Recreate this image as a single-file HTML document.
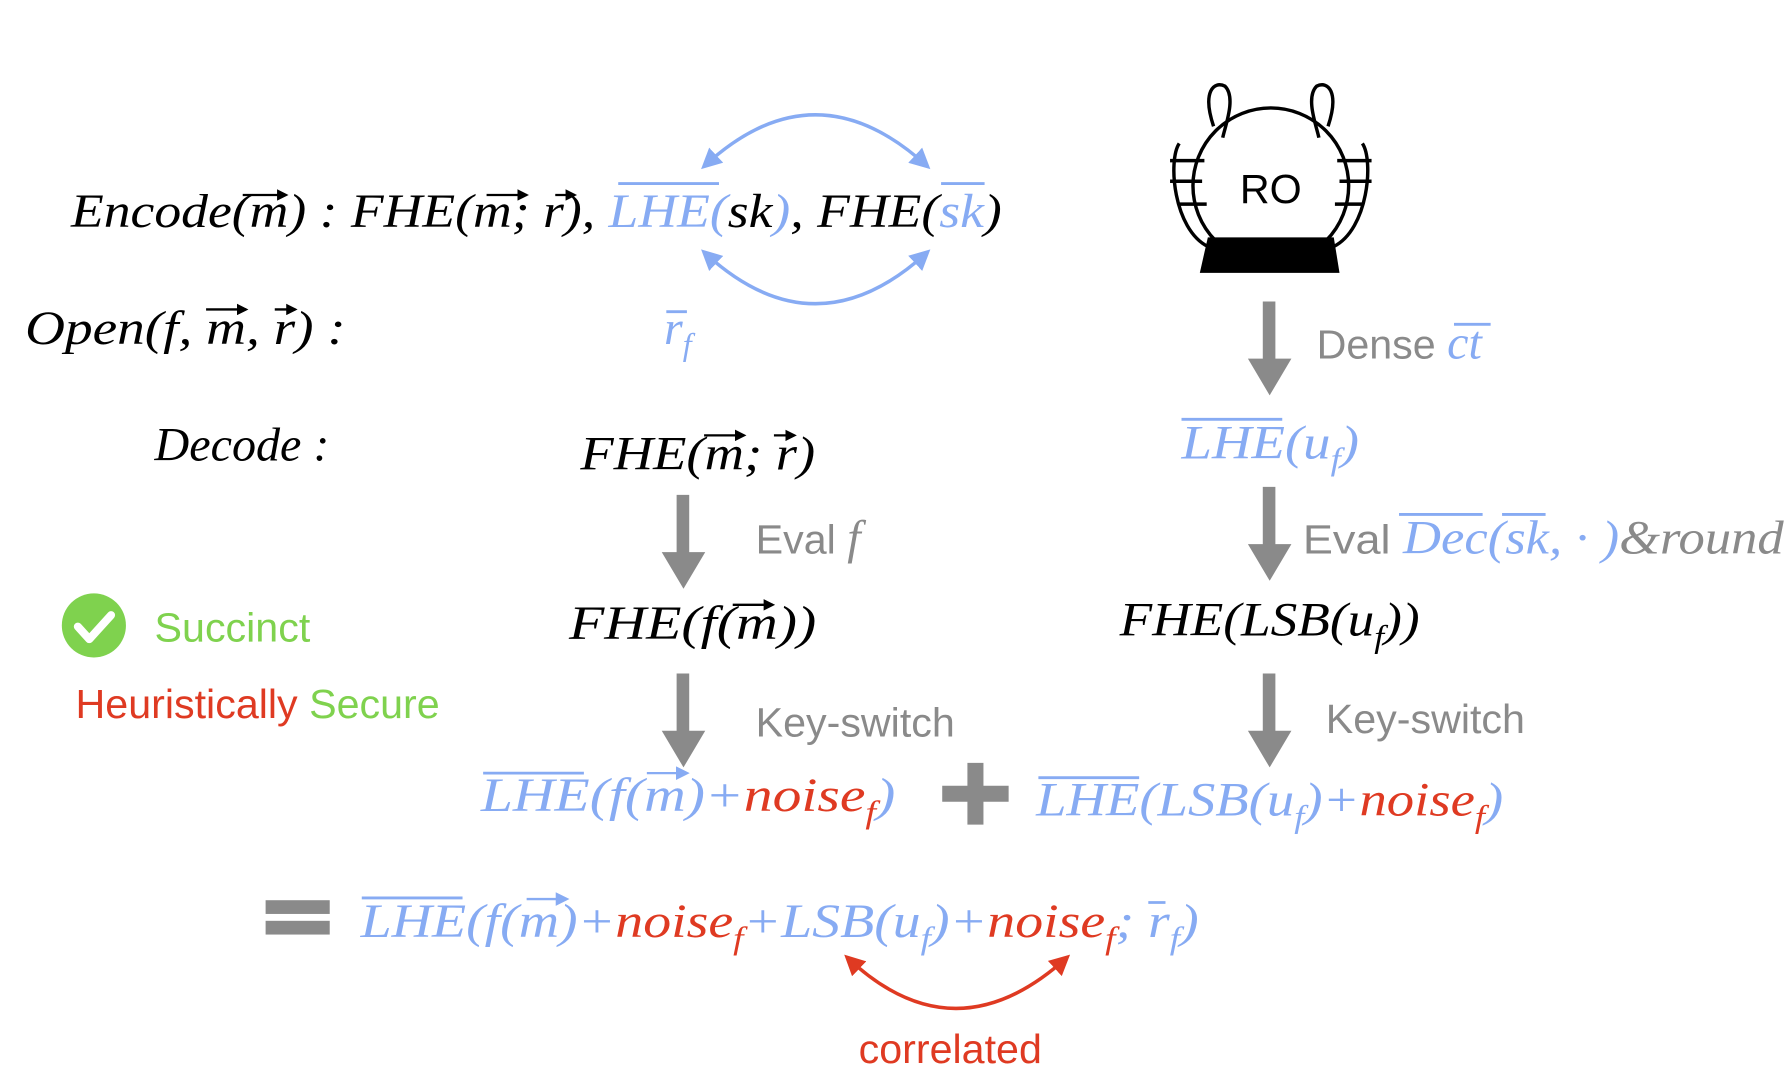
<!DOCTYPE html>
<html><head><meta charset="utf-8"><style>
html,body{margin:0;padding:0;background:#fff}
svg{display:block}
.m{font-family:"Liberation Serif",serif;font-style:italic;font-size:42px}
.s{font-family:"Liberation Sans",sans-serif;font-size:36px}
.b{fill:#87abf3}.k{fill:#000}.r{fill:#df3a22}.g{fill:#8a8a8a}.gr{fill:#7fd24e}
.sub{font-size:28px}
</style></head><body>
<svg width="1786" height="1078" viewBox="0 0 1560 941" xmlns="http://www.w3.org/2000/svg">
<defs>
<marker id="ab" viewBox="0 0 10 10" refX="8" refY="5" markerWidth="6" markerHeight="6" orient="auto-start-reverse"><path d="M0,0L10,5L0,10z" fill="#87abf3"/></marker>
<marker id="ar" viewBox="0 0 10 10" refX="8" refY="5" markerWidth="6" markerHeight="6" orient="auto-start-reverse"><path d="M0,0L10,5L0,10z" fill="#df3a22"/></marker>
<marker id="ak" viewBox="0 0 10 10" refX="8" refY="5" markerWidth="5" markerHeight="5" orient="auto"><path d="M0,0L10,5L0,10z" fill="#000"/></marker>
</defs>

<!-- line 1 -->
<text class="m k" x="62" y="198" textLength="813" lengthAdjust="spacingAndGlyphs">Encode(m) : FHE(m; r), <tspan class="b">LHE(</tspan>sk<tspan class="b">)</tspan>, FHE(<tspan class="b">sk</tspan>)</text>
<g stroke="#000" stroke-width="2" fill="none">
<path d="M212,170H250" marker-end="url(#ak)"/><path d="M425,170H460" marker-end="url(#ak)"/><path d="M485,170H502" marker-end="url(#ak)"/>
</g>
<g stroke="#87abf3" stroke-width="2.5"><path d="M540,160H628"/><path d="M822,160H860"/></g>
<path d="M615,145Q712,55 810,145" stroke="#87abf3" stroke-width="3" fill="none" marker-start="url(#ab)" marker-end="url(#ab)"/>
<path d="M615,220Q712,310 810,220" stroke="#87abf3" stroke-width="3" fill="none" marker-start="url(#ab)" marker-end="url(#ab)"/>

<!-- open -->
<text class="m k" x="22" y="300" textLength="280" lengthAdjust="spacingAndGlyphs">Open(f, m, r) :</text>
<g stroke="#000" stroke-width="2" fill="none"><path d="M180,270H215" marker-end="url(#ak)"/><path d="M240,270H258" marker-end="url(#ak)"/></g>
<text class="m b" x="580" y="300">r<tspan class="sub" dy="10">f</tspan></text>
<path d="M582,272H600" stroke="#87abf3" stroke-width="2.5"/>

<!-- decode -->
<text class="m k" x="135" y="402">Decode :</text>
<text class="m k" x="507" y="410" textLength="205" lengthAdjust="spacingAndGlyphs">FHE(m; r)</text>
<g stroke="#000" stroke-width="2" fill="none"><path d="M615,380H650" marker-end="url(#ak)"/><path d="M676,380H694" marker-end="url(#ak)"/></g>

<!-- RO figure -->
<g>
<circle cx="1110" cy="162" r="68" fill="#fff" stroke="#000" stroke-width="3"/>
<path d="M1060,110C1050,80 1060,70 1070,75C1080,85 1070,110 1068,120M1030,125C1020,140 1025,200 1055,215M1160,110C1170,80 1160,70 1150,75C1140,85 1150,110 1152,120M1190,125C1200,140 1195,200 1165,215" stroke="#000" stroke-width="3" fill="none"/>
<path d="M1022,140h30M1022,158h28M1030,178h24M1198,140h-30M1198,158h-28M1190,178h-24" stroke="#000" stroke-width="3"/>
<path d="M1055,207H1165L1170,238H1048Z" fill="#000"/>
<text class="s" x="1110" y="177" text-anchor="middle" fill="#000">RO</text>
</g>

<!-- gray arrows -->
<g fill="#8a8a8a">
<path d="M1103,263h11v50h14l-19,32l-19,-32h13z"/>
<path d="M1103,425h11v50h14l-19,32l-19,-32h13z"/>
<path d="M1103,588h11v50h14l-19,32l-19,-32h13z"/>
<path d="M591,432h11v50h14l-19,32l-19,-32h13z"/>
<path d="M591,588h11v50h14l-19,32l-19,-32h13z"/>
</g>

<text class="s g" x="1150" y="313">Dense <tspan class="m b">ct</tspan></text>
<path d="M1270,283H1302" stroke="#87abf3" stroke-width="2.5"/>
<text class="m b" x="1032" y="400" textLength="155" lengthAdjust="spacingAndGlyphs">LHE(u<tspan class="sub" dy="10">f</tspan><tspan dy="-10">)</tspan></text>
<path d="M1032,366H1120" stroke="#87abf3" stroke-width="2.5"/>

<text class="s g" x="660" y="483">Eval <tspan class="m">f</tspan></text>
<text class="s g" x="1138" y="483" textLength="420" lengthAdjust="spacingAndGlyphs">Eval <tspan class="m b">Dec(sk, · )</tspan><tspan class="m">&amp;round</tspan></text>
<path d="M1222,449H1295M1312,449H1350" stroke="#87abf3" stroke-width="2.5"/>

<text class="m k" x="497" y="558" textLength="216" lengthAdjust="spacingAndGlyphs">FHE(f(m))</text>
<path d="M640,528H675" stroke="#000" stroke-width="2" marker-end="url(#ak)"/>
<text class="m k" x="978" y="555" textLength="262" lengthAdjust="spacingAndGlyphs">FHE(LSB(u<tspan class="sub" dy="10">f</tspan><tspan dy="-10">))</tspan></text>

<!-- succinct -->
<g>
<circle cx="82" cy="546" r="28" fill="#7fd24e"/>
<path d="M68,547l10,11l19,-21" stroke="#fff" stroke-width="7" fill="none" stroke-linecap="round" stroke-linejoin="round"/>
</g>
<text class="s gr" x="135" y="560">Succinct</text>
<text class="s r" x="66" y="627">Heuristically <tspan class="gr">Secure</tspan></text>

<text class="s g" x="660" y="643">Key-switch</text>
<text class="s g" x="1158" y="640">Key-switch</text>

<text class="m b" x="420" y="708" textLength="362" lengthAdjust="spacingAndGlyphs">LHE(f(m)+<tspan class="r">noise<tspan class="sub" dy="10">f</tspan></tspan><tspan dy="-10">)</tspan></text>
<path d="M422,675H510" stroke="#87abf3" stroke-width="2.5"/>
<path d="M565,675H600" stroke="#87abf3" stroke-width="2" marker-end="url(#ab)"/>
<path d="M845,666h14v20h22v14h-22v20h-14v-20h-22v-14h22z" fill="#8a8a8a"/>
<text class="m b" x="905" y="712" textLength="408" lengthAdjust="spacingAndGlyphs">LHE(LSB(u<tspan class="sub" dy="10">f</tspan><tspan dy="-10">)+</tspan><tspan class="r">noise<tspan class="sub" dy="10">f</tspan></tspan><tspan dy="-10">)</tspan></text>
<path d="M907,679H995" stroke="#87abf3" stroke-width="2.5"/>

<!-- result -->
<g fill="#8a8a8a"><rect x="232" y="786" width="56" height="12"/><rect x="232" y="804" width="56" height="12"/></g>
<text class="m b" x="315" y="818" textLength="732" lengthAdjust="spacingAndGlyphs">LHE(f(m)+<tspan class="r">noise<tspan class="sub" dy="10">f</tspan></tspan><tspan dy="-10">+LSB(u</tspan><tspan class="sub" dy="10">f</tspan><tspan dy="-10">)+</tspan><tspan class="r">noise<tspan class="sub" dy="10">f</tspan></tspan><tspan dy="-10">; r</tspan><tspan class="sub" dy="10">f</tspan><tspan dy="-10">)</tspan></text>
<path d="M316,784H404" stroke="#87abf3" stroke-width="2.5"/>
<path d="M460,785H495" stroke="#87abf3" stroke-width="2" marker-end="url(#ab)"/>
<path d="M1003,788H1018" stroke="#87abf3" stroke-width="2.5"/>
<path d="M740,836Q834,925 932,836" stroke="#df3a22" stroke-width="3" fill="none" marker-start="url(#ar)" marker-end="url(#ar)"/>
<text class="s r" x="750" y="928">correlated</text>
</svg>
</body></html>
